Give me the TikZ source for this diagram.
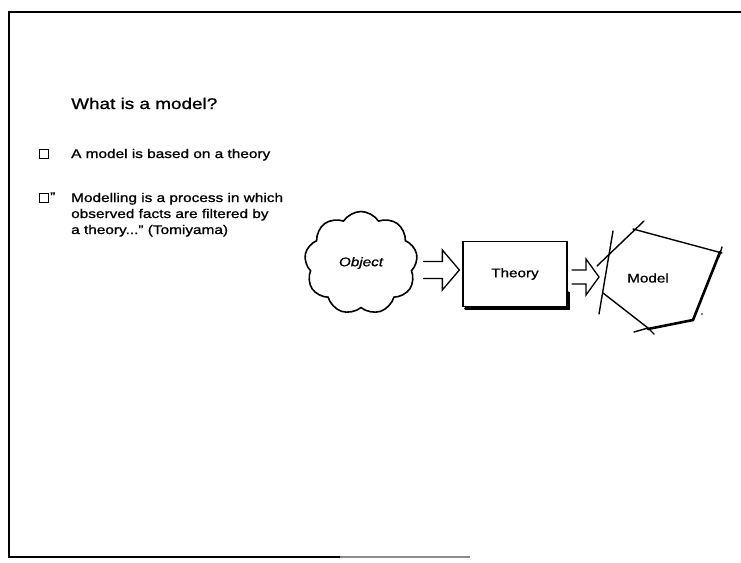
\documentclass[tikz,border=0pt]{standalone}
\usepackage{fontspec}
\setmainfont{Liberation Sans}[FakeStretch=1.22, FakeBold=1]
\usetikzlibrary{shapes.symbols,calc}

\tikzset{
  frameline/.style={line width=1.8pt},
  tickbox/.style={draw, line width=1.6pt, minimum size=9pt, inner sep=0pt},
  bodytext/.style={font=\fontsize{12.6}{16}\selectfont, inner sep=0pt, anchor=base west},
  hollowarrow/.style={line width=1.3pt, line join=miter},
  sketch/.style={line width=1.4pt, line cap=round},
  heavy/.style={line width=2.6pt, line cap=round},
}

\begin{document}
\begin{tikzpicture}[x=1pt, y=-1pt]
\useasboundingbox (0,0) rectangle (741,562);

% page frame
\draw[frameline] (741,12) -- (9,12) -- (9,557) -- (340,557);
\draw[line width=1.2pt, black!45] (340,557) -- (470,557);

% heading and bullet points
\node[anchor=base west, font=\fontsize{15.5}{19}\selectfont, inner sep=0pt] (title) at (71,109) {What is a model?};

\node[tickbox] (b1) at (44,154) {};
\node[bodytext] (t1) at (71,158) {A model is based on a theory};

\node[tickbox] (b2) at (44,198) {};
\node[bodytext] (q2) at (50,201) {"};
\node[bodytext] (t2a) at (71,202) {Modelling is a process in which};
\node[bodytext] (t2b) at (71,218) {observed facts are filtered by};
\node[bodytext] (t2c) at (71,234) {a theory..." (Tomiyama)};

% object -> theory -> model
\node[cloud, cloud puffs=9, cloud puff arc=115, aspect=1.1, draw, line width=1.6pt,
      minimum width=113pt, minimum height=103pt,
      font=\fontsize{12.5}{14}\selectfont\itshape] (obj) at (361,263) {Object};

\node[draw, line width=1.3pt, minimum width=104pt, minimum height=65pt,
      font=\fontsize{12.5}{14}\selectfont] (th) at (515,274) {Theory};
\draw[heavy] ($(th.south west)+(3,1.5)$) -- ($(th.south east)+(1,1.5)$) -- ++(0,-16);

\node[font=\fontsize{12.5}{14}\selectfont, inner sep=0pt] (mdl) at (648,278) {Model};

% block arrows
\coordinate (a1t) at ($(th.west)+(-3,-4)$);
\coordinate (a1s) at ($(a1t -| obj.east)+(6,0)$);
\draw[hollowarrow] ($(a1s)+(0,-8.5)$) -- ($(a1t)+(-17,-8.5)$) -- ($(a1t)+(-17,-20)$) -- (a1t)
  -- ($(a1t)+(-17,20)$) -- ($(a1t)+(-17,8.5)$) -- ($(a1s)+(0,8.5)$);

\coordinate (mleft) at (599,277);
\coordinate (a2s) at ($(mleft -| th.east)+(4,0)$);
\draw[hollowarrow] ($(a2s)+(0,-7)$) -- ($(mleft)+(-13,-7)$) -- ($(mleft)+(-13,-18)$) -- (mleft)
  -- ($(mleft)+(-13,18)$) -- ($(mleft)+(-13,7)$) -- ($(a2s)+(0,7)$);

% sketched polygon round the model
\draw[sketch] (597,266) -- (644,221);
\draw[sketch] (613,231) -- (599,314);
\draw[sketch] (633,229) -- (722,253);
\draw[sketch] (603,293) -- (648,328);
\draw[sketch] (722,247) -- (719,257);
\draw[heavy] (720,252) -- (693,320) -- (648,329);
\draw[sketch] (634,332) -- (648,328) -- (654,334);
\fill (702,314) circle (0.8pt);
\end{tikzpicture}
\end{document}
